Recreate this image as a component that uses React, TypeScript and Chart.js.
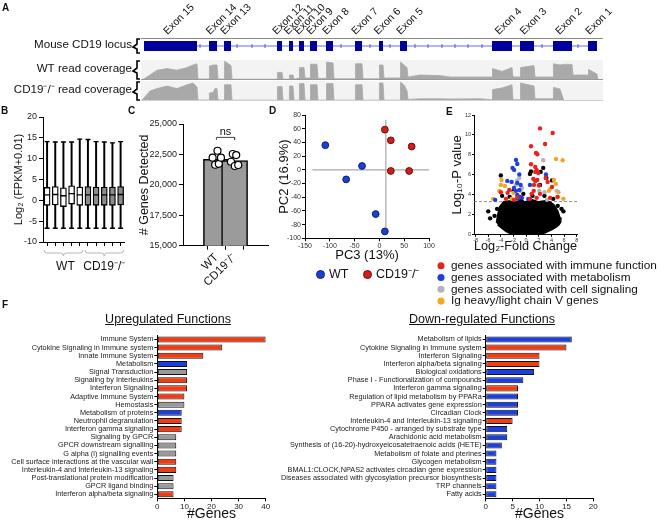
import React, { useEffect, useRef } from 'react';
import { Chart, registerables } from 'chart.js';

Chart.register(...registerables);

const FONT = "'Liberation Sans', Arial, Helvetica, sans-serif";
Chart.defaults.font.family = FONT;
Chart.defaults.color = '#222';

// ---------------- Panel A : CD19 locus ----------------
const exonNames = ['Exon 15', 'Exon 14', 'Exon 13', 'Exon 12', 'Exon 11', 'Exon 10', 'Exon 9', 'Exon 8', 'Exon 7', 'Exon 6', 'Exon 5', 'Exon 4', 'Exon 3', 'Exon 2', 'Exon 1'];
const exonStart = [0, 975, 1200, 1995, 2175, 2325, 2490, 2730, 3165, 3525, 3840, 5220, 5640, 6135, 6660];
const exonEnd = [795, 1095, 1305, 2070, 2235, 2400, 2595, 2835, 3270, 3585, 3945, 5520, 5850, 6420, 6795];
const locusSpan = [0, 6795];
const strandMarks = [840, 1395, 1620, 1815, 2955, 3390, 3690, 4065, 4260, 4470, 4665, 4860, 5070, 5970, 6510];
const trackRange = [-45, 6885];
const covPos = [-45, 0, 90, 195, 345, 495, 645, 735, 795, 810, 975, 982, 1035, 1065, 1095, 1110, 1200, 1208, 1305, 1320, 1995, 2002, 2070, 2085, 2175, 2182, 2235, 2250, 2325, 2332, 2400, 2415, 2490, 2498, 2595, 2610, 2730, 2738, 2835, 2850, 3165, 3172, 3270, 3285, 3525, 3532, 3585, 3600, 3840, 3848, 3900, 3945, 3960, 4140, 4440, 4590, 5040, 5220, 5228, 5370, 5520, 5535, 5640, 5648, 5850, 5865, 6135, 6142, 6240, 6285, 6300, 6420, 6435, 6660, 6668, 6795, 6810];
const covWT = [0, 6, 25, 49, 57, 49, 62, 75, 81, 5, 5, 70, 75, 75, 75, 5, 5, 94, 72, 4, 4, 38, 38, 4, 4, 25, 25, 4, 10, 62, 62, 10, 10, 79, 79, 8, 8, 90, 85, 6, 6, 81, 81, 6, 6, 75, 75, 10, 10, 90, 75, 62, 15, 25, 22, 15, 15, 15, 57, 43, 62, 15, 15, 62, 72, 15, 15, 81, 75, 78, 78, 78, 25, 25, 53, 30, 0];
const covKO = [0, 15, 50, 62, 75, 62, 81, 90, 70, 5, 5, 40, 43, 62, 62, 5, 5, 81, 81, 4, 4, 72, 72, 4, 4, 75, 75, 4, 4, 87, 87, 4, 4, 81, 81, 4, 4, 87, 87, 4, 4, 81, 81, 4, 4, 90, 90, 4, 4, 94, 80, 53, 8, 11, 11, 10, 11, 6, 57, 65, 81, 6, 6, 90, 75, 11, 11, 68, 60, 15, 0, 0, 0, 0, 0, 0, 0];

// ---------------- Panel B : box plots ----------------
const sampleIds = ['WT-1', 'WT-2', 'WT-3', 'WT-4', 'WT-5', 'KO-1', 'KO-2', 'KO-3', 'KO-4', 'KO-5'];
const boxMin = [-6.7, -6.7, -6.7, -6.7, -6.7, -6.7, -6.7, -6.7, -6.7, -6.7];
const boxQ1 = [-1.2, -1.1, -1.5, -0.9, -1.2, -1.2, -1.2, -1.2, -1.2, -1.1];
const boxMed = [1.3, 1.4, 1.1, 1.6, 1.3, 1.3, 1.3, 1.3, 1.3, 1.4];
const boxQ3 = [3.1, 3.3, 3.0, 3.5, 3.2, 3.3, 3.2, 3.2, 3.2, 3.3];
const boxMax = [14.1, 14.0, 14.0, 14.0, 14.7, 14.6, 14.1, 14.0, 13.8, 14.1];
const boxFill = ['#ffffff', '#ffffff', '#ffffff', '#ffffff', '#ffffff', '#8c8c8c', '#8c8c8c', '#8c8c8c', '#8c8c8c', '#8c8c8c'];
const groupRanges = [[0, 4], [5, 9]];
const groupNames = ['WT', 'CD19\u207B/\u207B'];

// ---------------- Panel C : genes detected ----------------
const groupPos = [0, 1];
const genesMean = [22100, 22000];
const wtJitter = [-0.21, 0.06, -0.07, 0.13, 0.25];
const wtGenes = [22230, 22800, 21650, 21730, 22230];
const koJitter = [-0.2, -0.1, 0.09, 0.01, 0.2];
const koGenes = [21900, 22535, 22450, 21550, 21630];
const nsBracket = [23700, 23900];

// ---------------- Panel D : PCA ----------------
const wtPC3 = [-109, -35, -67, -7.5, 11];
const wtPC2 = [36, 5.6, -14, -64.6, -90];
const koPC3 = [11, 23, 65, 23, 60];
const koPC2 = [58.6, 43, 34, -1.7, -1.7];
const refH = [-135, 100];
const refV = [-93, 73];
const refVx = 13;

// ---------------- Panel E : volcano ----------------
const immuneFC = [2.19, 4.2, 3.0, 0.77, 1.56, 1.77, 0.77, 1.45, 1.66, 1.45, 1.93, 1.14, 1.45, 1.77, 1.24, 2.03, 3.1, 3.4, 4.1, -2.93, -4.0, -2.67, -1.93, 0.87, 1.66, 0.6, -1.4, 3.8, 5.0, -3.2, 1.2, 2.2];
const immuneP = [10.66, 10.2, 9.1, 8.87, 8.2, 8.07, 7.06, 6.8, 6.5, 6.3, 6.2, 5.6, 5.4, 5.5, 5.0, 4.94, 5.7, 5.3, 4.8, 4.2, 4.27, 4.5, 3.5, 4.1, 3.7, 3.6, 3.76, 3.7, 3.8, 3.6, 4.4, 4.1];
const metabFC = [-1.6, -1.4, -2.14, -1.9, -1.08, -2.98, -2.3, -1.4, -0.87, -1.08, -1.6, -1.4, -0.98, -0.66, -1.93, 0.6, 3.14, -4.9, 0.34, -1.3];
const metabP = [7.5, 7.1, 6.7, 6.5, 6.05, 5.4, 5.3, 5.2, 5.0, 4.5, 4.4, 4.0, 3.8, 3.7, 4.7, 5.0, 6.05, 3.5, 3.6, 3.6];
const signalFC = [2.7, -1.08, -0.66, -1.4, -0.87, 4.83, 2.08, 2.9, -1.6, 3.3];
const signalP = [7.46, 5.7, 4.7, 5.45, 4.4, 4.4, 4.4, 4.27, 5.0, 3.5];
const igFC = [4.73, 5.78, -3.9, -4.0, -3.35, -4.25, 4.4, 4.7, 3.8, 3.6, 5.1, 4.9, 5.9, -2.3, -2.0, -5.2];
const igP = [7.6, 7.46, 5.5, 5.0, 4.9, 4.4, 5.5, 5.1, 4.6, 4.4, 4.27, 3.76, 3.6, 3.6, 4.2, 3.6];
const otherFC = [-6.0, -5.7, -4.0, 0.77, 2.7, 4.1, 5.6, 5.9, 5.0, 2.3, 0.6, 3.2, 2.2, 2.9, -0.45, -2.0, -3.8, -2.6, 1.0, 4.3, -4.6, -5.0, 5.3];
const otherP = [2.35, 1.65, 5.95, 6.35, 6.7, 5.45, 2.6, 2.35, 2.9, 6.3, 6.1, 5.7, 5.0, 3.9, 4.1, 4.4, 3.9, 3.8, 3.9, 3.6, 2.6, 1.9, 1.6];
const blobFC = [-4.7, -4.5, -4.2, -3.6, -2.5, -1.5, -0.8, -0.3, 0.3, 1.0, 2.0, 3.0, 3.8, 4.4, 5.0, 5.3, 5.5, 5.2, 4.8, 4.0, 3.0, 2.2, 0, -2.3, -3.2, -3.9, -4.5];
const blobP = [1.2, 2.0, 2.8, 3.3, 3.4, 3.3, 3.6, 3.3, 3.4, 3.5, 3.3, 3.4, 3.3, 3.0, 2.4, 1.8, 1.3, 1.0, 0.8, 0.5, 0.2, 0.05, 0, 0.05, 0.35, 0.7, 1.0];
const pThreshold = 3.33;
const fcRange = [-8.25, 8.05];
const fcTicks = [-8, -6, -4, -2, 0, 2, 4, 6, 8];

// ---------------- Panel F : pathways ----------------
const upLabels = ['Immune System', 'Cytokine Signaling in Immune system', 'Innate Immune System', 'Metabolism', 'Signal Transduction', 'Signaling by Interleukins', 'Interferon Signaling', 'Adaptive Immune System', 'Hemostasis', 'Metabolism of proteins', 'Neutrophil degranulation', 'Interferon gamma signaling', 'Signaling by GPCR', 'GPCR downstream signalling', 'G alpha (i) signalling events', 'Cell surface interactions at the vascular wall', 'Interleukin-4 and Interleukin-13 signaling', 'Post-translational protein modification', 'GPCR ligand binding', 'Interferon alpha/beta signaling'];
const upCounts = [40, 24, 17, 11, 11, 11, 11, 10, 10, 9, 9, 9, 7, 7, 7, 7, 7, 6, 6, 6];
const upClass = ['immune', 'immune', 'immune', 'metabolism', 'signaling', 'immune', 'immune', 'immune', 'signaling', 'metabolism', 'immune', 'immune', 'signaling', 'signaling', 'signaling', 'immune', 'immune', 'signaling', 'signaling', 'immune'];
const downLabels = ['Metabolism of lipids', 'Cytokine Signaling in Immune system', 'Interferon Signaling', 'Interferon alpha/beta signaling', 'Biological oxidations', 'Phase I - Functionalization of compounds', 'Interferon gamma signaling', 'Regulation of lipid metabolism by PPARa', 'PPARA activates gene expression', 'Circadian Clock', 'Interleukin-4 and Interleukin-13 signaling', 'Cytochrome P450 - arranged by substrate type', 'Arachidonic acid metabolism', 'Synthesis of (16-20)-hydroxyeicosatetraenoic acids (HETE)', 'Metabolism of folate and pterines', 'Glycogen metabolism', 'BMAL1:CLOCK,NPAS2 activates circadian gene expression', 'Diseases associated with glycosylation precursor biosynthesis', 'TRP channels', 'Fatty acids'];
const downCounts = [16, 15, 10, 10, 9, 7, 6, 6, 6, 6, 5, 4, 4, 3, 2, 2, 2, 2, 2, 2];
const downClass = ['metabolism', 'immune', 'immune', 'immune', 'metabolism', 'metabolism', 'immune', 'metabolism', 'metabolism', 'metabolism', 'immune', 'metabolism', 'metabolism', 'metabolism', 'metabolism', 'metabolism', 'metabolism', 'metabolism', 'metabolism', 'metabolism'];
const CLASS_COLOR: Record<string, string> = { immune: '#f23c14', metabolism: '#1b3fe0', signaling: '#9a9a9a' };

// ---------------- helpers ----------------
const pts = (xs: number[], ys: number[]) => xs.map((x, i) => ({ x, y: ys[i] }));
const fixW = (w: number) => (s: any) => { s.width = w; };
const fixH = (h: number) => (s: any) => { s.height = h; };
const axisBorder = { color: '#000', width: 1 };
const tickGrid = (len: number) => ({ drawOnChartArea: false, color: '#000', tickLength: len, tickWidth: 1 });

const base = (padding: any) => ({
  responsive: false,
  animation: false,
  events: [],
  layout: { padding },
  plugins: { legend: { display: false }, tooltip: { enabled: false } },
});

const rowDeco = (label: string, bg: string | null, topLine: string | null, bottomLine: string | null) => ({
  id: 'rowDeco',
  beforeDatasetsDraw(chart: any) {
    const { ctx, chartArea: a } = chart;
    if (!bg) return;
    ctx.save();
    ctx.fillStyle = bg;
    ctx.fillRect(a.left, a.top, a.right - a.left, a.bottom - a.top);
    ctx.restore();
  },
  afterDraw(chart: any) {
    const { ctx, chartArea: a } = chart;
    ctx.save();
    if (topLine) {
      ctx.strokeStyle = topLine; ctx.lineWidth = 1;
      ctx.beginPath(); ctx.moveTo(a.left, a.top + 0.5); ctx.lineTo(a.right, a.top + 0.5); ctx.stroke();
    }
    if (bottomLine) {
      ctx.strokeStyle = bottomLine; ctx.lineWidth = 1;
      ctx.beginPath(); ctx.moveTo(a.left, a.bottom - 0.5); ctx.lineTo(a.right, a.bottom - 0.5); ctx.stroke();
    }
    const x = a.left - 4, t = a.top + 1, b = a.bottom - 1, m = (t + b) / 2;
    ctx.strokeStyle = '#000'; ctx.lineWidth = 1.6;
    ctx.beginPath();
    ctx.moveTo(a.left - 1, t); ctx.lineTo(x, t); ctx.lineTo(x, m - 2); ctx.lineTo(x - 4, m + 1);
    ctx.lineTo(x, m + 3); ctx.lineTo(x, b); ctx.lineTo(a.left - 1, b);
    ctx.stroke();
    ctx.font = `11.6px ${FONT}`; ctx.fillStyle = '#111'; ctx.textAlign = 'right'; ctx.textBaseline = 'middle';
    ctx.fillText(label, x - 5, m - 1);
    ctx.restore();
  },
});

const exonLabelPlugin = {
  id: 'exonLabels',
  afterDraw(chart: any) {
    const { ctx, scales: { x }, chartArea: a } = chart;
    ctx.save();
    ctx.font = `10.5px ${FONT}`; ctx.fillStyle = '#111'; ctx.textAlign = 'left'; ctx.textBaseline = 'alphabetic';
    exonNames.forEach((n, i) => {
      const cx = x.getPixelForValue((exonStart[i] + exonEnd[i]) / 2);
      ctx.save(); ctx.translate(cx - 3, a.top - 3); ctx.rotate(-Math.PI / 4); ctx.fillText(n, 0, 0); ctx.restore();
    });
    ctx.restore();
  },
};

const bracePlugin = {
  id: 'braces',
  afterDraw(chart: any) {
    const { ctx, scales: { x }, chartArea: a } = chart;
    ctx.save();
    groupRanges.forEach(([i0, i1], g) => {
      const x0 = x.getPixelForValue(i0) - 3, x1 = x.getPixelForValue(i1) + 3, m = (x0 + x1) / 2, y = a.bottom + 8;
      ctx.strokeStyle = '#b5b5b5'; ctx.lineWidth = 1;
      ctx.beginPath();
      ctx.moveTo(x0, y); ctx.quadraticCurveTo(x0, y + 3, x0 + 3, y + 3); ctx.lineTo(m - 3, y + 3);
      ctx.quadraticCurveTo(m, y + 3, m, y + 6); ctx.quadraticCurveTo(m, y + 3, m + 3, y + 3);
      ctx.lineTo(x1 - 3, y + 3); ctx.quadraticCurveTo(x1, y + 3, x1, y);
      ctx.stroke();
      ctx.fillStyle = '#111'; ctx.font = `12px ${FONT}`; ctx.textAlign = 'center'; ctx.textBaseline = 'middle';
      ctx.fillText(groupNames[g], m + (g === 0 ? 2 : 0), a.bottom + 25);
    });
    ctx.restore();
  },
};

const textAt = (items: { x: number; y: number; text: string; size: number }[]) => ({
  id: 'textAt',
  afterDatasetsDraw(chart: any) {
    const { ctx, scales: { x, y } } = chart;
    ctx.save();
    items.forEach((it) => {
      ctx.font = `${it.size}px ${FONT}`; ctx.fillStyle = '#111'; ctx.textAlign = 'center'; ctx.textBaseline = 'middle';
      ctx.fillText(it.text, x.getPixelForValue(it.x), y.getPixelForValue(it.y));
    });
    ctx.restore();
  },
});

// ---------------- configs ----------------
function locusConfig(): any {
  const exonData = exonStart.flatMap((s, i) => [{ x: s, y: 0 }, { x: exonEnd[i], y: 0 }, { x: exonEnd[i], y: null }]);
  return {
    type: 'line',
    data: {
      datasets: [
        { data: exonData, borderColor: '#00009c', borderWidth: 10, borderCapStyle: 'butt', pointRadius: 0, spanGaps: false },
        { type: 'scatter', data: strandMarks.map((x) => ({ x, y: 0 })), pointStyle: 'line', pointRotation: 90, pointRadius: 2, pointBorderColor: '#5a5ad0', pointBorderWidth: 1 },
        { data: locusSpan.map((x) => ({ x, y: 0 })), borderColor: '#6c6ce0', borderWidth: 1.2, pointRadius: 0 },
      ],
    },
    options: {
      ...base({ left: 141, right: 66, top: 38, bottom: 0 }),
      scales: {
        x: { type: 'linear', min: trackRange[0], max: trackRange[1], display: false },
        y: { min: -1, max: 1, display: false },
      },
    },
    plugins: [rowDeco('Mouse CD19 locus', null, '#8a8a8a', null), exonLabelPlugin],
  };
}

function coverageConfig(values: number[], label: string, bottomLine: string): any {
  return {
    type: 'line',
    data: {
      datasets: [{ data: pts(covPos, values), borderColor: '#a9a9a9', borderWidth: 0.8, backgroundColor: '#a9a9a9', fill: 'origin', pointRadius: 0, tension: 0 }],
    },
    options: {
      ...base({ left: 141, right: 66, top: 1, bottom: 0 }),
      scales: {
        x: { type: 'linear', min: trackRange[0], max: trackRange[1], display: false },
        y: { min: 0, max: 100, display: false },
      },
    },
    plugins: [rowDeco(label, '#f3f3f3', null, bottomLine)],
  };
}

function boxConfig(): any {
  const pointLine = (data: number[], r: number) => ({
    type: 'line', data, showLine: false, pointStyle: 'line', pointRadius: r, pointBorderWidth: 1.3, pointBorderColor: '#000', borderColor: '#000',
  });
  return {
    type: 'bar',
    data: {
      labels: sampleIds,
      datasets: [
        pointLine(boxMed, 3),
        pointLine(boxMax, 2.5),
        pointLine(boxMin, 2.5),
        { data: boxQ1.map((q, i) => [q, boxQ3[i]]), backgroundColor: boxFill, borderColor: '#000', borderWidth: 1.3, borderSkipped: false, barThickness: 6, grouped: false },
        { data: boxMin.map((m, i) => [m, boxMax[i]]), backgroundColor: '#000', borderWidth: 0, barThickness: 1.3, grouped: false },
      ],
    },
    options: {
      ...base({ left: 8, right: 5, top: 12, bottom: 30 }),
      scales: {
        x: { offset: true, grid: { ...tickGrid(4), offset: false }, border: axisBorder, ticks: { display: false }, afterFit: fixH(8) },
        y: {
          min: -10, max: 20, ticks: { stepSize: 5, font: { size: 9 }, color: '#222', padding: 2 },
          grid: tickGrid(4), border: axisBorder,
          title: { display: true, text: 'Log\u2082 (FPKM+0.01)', font: { size: 11 }, color: '#111', padding: { top: 4, bottom: 0 } },
          afterFit: fixW(35),
        },
      },
    },
    plugins: [bracePlugin],
  };
}

function genesConfig(): any {
  const dot = { pointRadius: 3.5, pointBackgroundColor: '#fff', pointBorderColor: '#000', pointBorderWidth: 1.2 };
  return {
    type: 'bar',
    data: {
      datasets: [
        { type: 'scatter', data: pts(wtJitter.map((j) => groupPos[0] + j), wtGenes), ...dot },
        { type: 'scatter', data: pts(koJitter.map((j) => groupPos[1] + j), koGenes), ...dot },
        {
          type: 'line',
          data: [{ x: groupPos[0], y: nsBracket[0] }, { x: groupPos[0], y: nsBracket[1] }, { x: groupPos[1], y: nsBracket[1] }, { x: groupPos[1], y: nsBracket[0] }],
          borderColor: '#444', borderWidth: 1, pointRadius: 0,
        },
        { data: pts(groupPos, genesMean), backgroundColor: '#9b9b9b', borderColor: '#000', borderWidth: 1.5, borderSkipped: false, barThickness: 26 },
      ],
    },
    options: {
      ...base({ left: 0, right: 7, top: 19, bottom: 0 }),
      scales: {
        x: {
          type: 'linear', min: -0.67, max: 1.67,
          afterBuildTicks: (s: any) => { s.ticks = groupPos.map((v) => ({ value: v })); },
          ticks: { callback: (v: any) => groupNames[groupPos.indexOf(v)] ?? '', minRotation: 45, maxRotation: 45, font: { size: 11.5 }, color: '#111', padding: 1 },
          grid: tickGrid(4), border: axisBorder, afterFit: fixH(59.3),
        },
        y: {
          min: 15000, max: 25000, ticks: { stepSize: 2500, font: { size: 9 }, color: '#222', padding: 2 },
          grid: tickGrid(4), border: axisBorder,
          title: { display: true, text: '# Genes Detected', font: { size: 12.5 }, color: '#111', padding: { top: 17, bottom: 0 } },
          afterFit: fixW(63),
        },
      },
    },
    plugins: [textAt([{ x: 0.5, y: 24370, text: 'ns', size: 11 }])],
  };
}

function pcaConfig(): any {
  return {
    type: 'scatter',
    data: {
      datasets: [
        { data: pts(wtPC3, wtPC2), pointRadius: 3.4, backgroundColor: '#1f3fd0', borderColor: '#0d1f70', borderWidth: 1 },
        { data: pts(koPC3, koPC2), pointRadius: 3.4, backgroundColor: '#d41c1c', borderColor: '#6b0d0d', borderWidth: 1 },
        { type: 'line', data: refH.map((x) => ({ x, y: 0 })), borderColor: '#a8a8a8', borderWidth: 1.2, pointRadius: 0 },
        { type: 'line', data: refV.map((y) => ({ x: refVx, y })), borderColor: '#a8a8a8', borderWidth: 1.2, pointRadius: 0 },
      ],
    },
    options: {
      ...base({ left: 0, right: 8, top: 10, bottom: 0 }),
      scales: {
        x: {
          min: -150, max: 100, ticks: { stepSize: 50, font: { size: 7 }, color: '#333', padding: 1 },
          grid: tickGrid(3), border: axisBorder,
          title: { display: true, text: 'PC3 (13%)', font: { size: 13 }, color: '#111', padding: { top: 0, bottom: 2 } },
          afterFit: fixH(26.7),
        },
        y: {
          min: -100, max: 80, ticks: { stepSize: 20, font: { size: 7 }, color: '#333', padding: 1 },
          grid: tickGrid(3), border: axisBorder,
          title: { display: true, text: 'PC2 (16.9%)', font: { size: 13 }, color: '#111', padding: { top: 15, bottom: 0 } },
          afterFit: fixW(43),
        },
      },
    },
  };
}

function volcanoConfig(): any {
  const dots = (xs: number[], ys: number[], color: string, label: string) => ({
    label, data: pts(xs, ys), pointRadius: 2.2, pointStyle: 'circle', backgroundColor: color, borderColor: color, borderWidth: 0,
  });
  return {
    type: 'scatter',
    data: {
      datasets: [
        dots(immuneFC, immuneP, '#e8231c', 'genes associated with immune function'),
        dots(metabFC, metabP, '#1f3ee0', 'genes associated with metabolism'),
        dots(signalFC, signalP, '#b4b4b4', 'genes associated with cell signaling'),
        dots(igFC, igP, '#f5a623', 'Ig heavy/light chain V genes'),
        dots(otherFC, otherP, '#000', 'other genes'),
        { type: 'line', label: 'other genes (dense)', data: pts(blobFC, blobP), fill: 'shape', backgroundColor: '#000', borderColor: '#000', borderWidth: 1.5, pointRadius: 0, tension: 0 },
        { type: 'line', label: 'threshold', data: fcRange.map((x) => ({ x, y: pThreshold })), borderColor: '#777', borderWidth: 0.8, borderDash: [3, 2], pointRadius: 0 },
      ],
    },
    options: {
      ...base({ left: 0, right: 0, top: 10, bottom: 0 }),
      plugins: {
        tooltip: { enabled: false },
        legend: {
          display: true, position: 'bottom', align: 'start',
          labels: {
            usePointStyle: true, boxHeight: 5, boxWidth: 8, padding: 0, color: '#111', font: { size: 11.8 },
            filter: (item: any) => item.datasetIndex < 4,
          },
        },
      },
      scales: {
        x: {
          type: 'linear', min: fcRange[0], max: fcRange[1],
          afterBuildTicks: (s: any) => { s.ticks = fcTicks.map((v) => ({ value: v })); },
          ticks: { font: { size: 5.5 }, color: '#333', padding: 0 },
          grid: tickGrid(2), border: axisBorder,
          title: { display: true, text: 'Log\u2082-Fold Change', font: { size: 13 }, color: '#111', padding: { top: 0, bottom: 6 } },
          afterFit: fixH(25),
        },
        y: {
          min: 0, max: 12, ticks: { stepSize: 2, font: { size: 5.5 }, color: '#333', padding: 1 },
          grid: tickGrid(2), border: axisBorder,
          title: { display: true, text: 'Log\u2081\u2080-P value', font: { size: 13 }, color: '#111', padding: { top: 13, bottom: 0 } },
          afterFit: fixW(37),
        },
        yRightSpace: {
          position: 'right', display: true, grid: { display: false }, border: { display: false }, ticks: { display: false },
          afterFit: fixW(92),
        },
      },
    },
  };
}

function pathwayConfig(labels: string[], counts: number[], classes: string[], max: number, step: number, yW: number, padR: number): any {
  return {
    type: 'bar',
    data: {
      labels,
      datasets: [{ data: counts, backgroundColor: classes.map((c) => CLASS_COLOR[c]), borderColor: '#111', borderWidth: 1, borderSkipped: false, barPercentage: 0.74, categoryPercentage: 1 }],
    },
    options: {
      ...base({ left: 0, right: padR, top: 4.2, bottom: 0 }),
      indexAxis: 'y',
      scales: {
        x: {
          min: 0, max, ticks: { stepSize: step, font: { size: 8 }, color: '#222', padding: 1 },
          grid: tickGrid(3), border: axisBorder,
          title: { display: true, text: '#Genes', font: { size: 14, lineHeight: 1 }, color: '#111', padding: { top: 0, bottom: 0 } },
          afterFit: fixH(22.6),
        },
        y: {
          ticks: { font: { size: 7.3 }, color: '#222', padding: 1, autoSkip: false },
          grid: { ...tickGrid(3), offset: false }, border: axisBorder,
          afterFit: fixW(yW),
        },
      },
    },
  };
}

// ---------------- components ----------------
function ChartBox({ left, top, width, height, make }: { left: number; top: number; width: number; height: number; make: () => any }) {
  const ref = useRef<HTMLCanvasElement>(null);
  useEffect(() => {
    const chart = new Chart(ref.current as HTMLCanvasElement, make());
    return () => chart.destroy();
  }, []);
  return <canvas ref={ref} width={width} height={height} style={{ position: 'absolute', left, top, width, height }} />;
}

const txt = (style: React.CSSProperties): React.CSSProperties => ({ position: 'absolute', fontFamily: FONT, color: '#111', whiteSpace: 'nowrap', lineHeight: 1, ...style });

function Letter({ c, left, top }: { c: string; left: number; top: number }) {
  return <div style={txt({ left, top, fontSize: 10, fontWeight: 'bold' })}>{c}</div>;
}

export default function App() {
  return (
    <div style={{ position: 'absolute', left: 0, top: 0, width: 669, height: 521, background: '#fff', overflow: 'hidden' }}>
      <ChartBox left={0} top={0} width={669} height={59} make={locusConfig} />
      <ChartBox left={0} top={59} width={669} height={21} make={() => coverageConfig(covWT, 'WT read coverage', '#9a9a9a')} />
      <ChartBox left={0} top={80} width={669} height={21} make={() => coverageConfig(covKO, 'CD19\u207B/\u207B read coverage', '#d0d0d0')} />
      <ChartBox left={0} top={105} width={130} height={175} make={boxConfig} />
      <ChartBox left={120} top={105} width={155} height={200} make={genesConfig} />
      <ChartBox left={262} top={105} width={175} height={160} make={pcaConfig} />
      <ChartBox left={437} top={105} width={232} height={212} make={volcanoConfig} />
      <ChartBox left={0} top={330} width={275} height={191} make={() => pathwayConfig(upLabels, upCounts, upClass, 40, 10, 157.3, 9.3)} />
      <ChartBox left={270} top={330} width={399} height={191} make={() => pathwayConfig(downLabels, downCounts, downClass, 20, 5, 215.7, 75.7)} />

      <Letter c="A" left={2} top={3} />
      <Letter c="B" left={1} top={106} />
      <Letter c="C" left={128} top={106} />
      <Letter c="D" left={269} top={106} />
      <Letter c="E" left={446} top={107} />
      <Letter c="F" left={2} top={300} />

      {/* PCA legend */}
      <div style={{ position: 'absolute', left: 315.5, top: 269.5, width: 9, height: 9, borderRadius: '50%', background: '#1f3fd0', border: '1px solid #0d1f70', boxSizing: 'border-box' }} />
      <div style={txt({ left: 329, top: 268, fontSize: 12.5 })}>WT</div>
      <div style={{ position: 'absolute', left: 362.5, top: 269.5, width: 9, height: 9, borderRadius: '50%', background: '#d41c1c', border: '1px solid #6b0d0d', boxSizing: 'border-box' }} />
      <div style={txt({ left: 376, top: 268, fontSize: 12.5 })}>CD19⁻/⁻</div>

      {/* F titles */}
      <div style={txt({ left: 68, top: 313, width: 200, textAlign: 'center', fontSize: 12.5, textDecoration: 'underline' })}>Upregulated Functions</div>
      <div style={txt({ left: 382, top: 313, width: 200, textAlign: 'center', fontSize: 12.5, textDecoration: 'underline' })}>Down-regulated Functions</div>
    </div>
  );
}
